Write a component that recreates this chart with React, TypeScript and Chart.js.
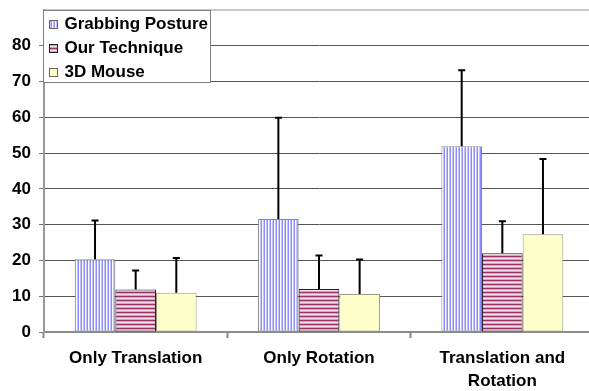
import React, { useEffect, useRef } from 'react';
import { Chart, registerables } from 'chart.js';

Chart.register(...registerables);

const categories: (string | string[])[] = ['Only Translation', 'Only Rotation', ['Translation and', 'Rotation']];
const seriesNames = ['Grabbing Posture', 'Our Technique', '3D Mouse'];
const grabbingPosture = [20.3, 31.6, 51.9];
const ourTechnique = [11.9, 12.0, 22.0];
const mouse3d = [11.0, 10.6, 27.3];
const grabbingPostureErr = [11.0, 28.4, 21.4];
const ourTechniqueErr = [5.4, 9.5, 9.1];
const mouse3dErr = [9.8, 9.8, 21.2];
const yTicks = [0, 10, 20, 30, 40, 50, 60, 70, 80, 90];

const FONT = '"Liberation Sans", Arial, sans-serif';

function stripePattern(colors: string[], vertical: boolean): CanvasPattern | string {
  const c = document.createElement('canvas');
  c.width = vertical ? colors.length : 1;
  c.height = vertical ? 1 : colors.length;
  const x = c.getContext('2d');
  if (!x) return colors[0];
  colors.forEach((col, i) => {
    x.fillStyle = col;
    if (vertical) x.fillRect(i, 0, 1, 1);
    else x.fillRect(0, i, 1, 1);
  });
  const p = x.createPattern(c, 'repeat');
  return p || colors[0];
}

export default function App() {
  const ref = useRef<HTMLCanvasElement>(null);

  useEffect(() => {
    if (!ref.current) return;
    const bluePat = stripePattern(['#8c8cff', '#ffffff', '#c4c4ff'], true);
    const pinkPat = stripePattern(['#993366', '#d9a3be', '#f3dde8', '#d9a3be'], false);
    const fills = [bluePat, pinkPat, '#ffffcc'];
    const borders = ['#8a8a8a', '#222222', '#9a9a80'];
    const errs = [grabbingPostureErr, ourTechniqueErr, mouse3dErr];

    const errorBars = {
      id: 'errorBars',
      afterDatasetsDraw(chart: any) {
        const ctx = chart.ctx;
        const ys = chart.scales.y;
        ctx.save();
        ctx.strokeStyle = '#000';
        ctx.lineWidth = 2;
        chart.data.datasets.forEach((ds: any, i: number) => {
          const meta = chart.getDatasetMeta(i);
          meta.data.forEach((el: any, j: number) => {
            const v = ds.data[j];
            const top = ys.getPixelForValue(v + errs[i][j]);
            ctx.beginPath();
            ctx.moveTo(el.x, el.y);
            ctx.lineTo(el.x, top);
            ctx.moveTo(el.x - 3.5, top + 0.5);
            ctx.lineTo(el.x + 3.5, top + 0.5);
            ctx.stroke();
          });
        });
        ctx.restore();
      },
    };

    const legendBox = {
      id: 'legendBox',
      afterDraw(chart: any) {
        const ctx = chart.ctx;
        const left = chart.chartArea.left - 0.5;
        const top = chart.chartArea.top + 0.5;
        ctx.save();
        ctx.fillStyle = '#ffffff';
        ctx.fillRect(left, top, 167, 72);
        ctx.strokeStyle = '#808080';
        ctx.lineWidth = 1;
        ctx.strokeRect(left, top, 167, 72);
        ctx.font = 'bold 17px ' + FONT;
        ctx.textBaseline = 'middle';
        ctx.textAlign = 'left';
        chart.data.datasets.forEach((ds: any, i: number) => {
          const cy = top + 14 + i * 24;
          ctx.fillStyle = ds.backgroundColor;
          ctx.fillRect(left + 6, cy - 4, 8, 8);
          ctx.strokeStyle = i === 1 ? '#222' : '#666';
          ctx.strokeRect(left + 6, cy - 4, 8, 8);
          ctx.fillStyle = '#000';
          ctx.fillText(ds.label, left + 21, cy);
        });
        ctx.restore();
      },
    };

    const chart = new Chart(ref.current, {
      type: 'bar',
      data: {
        labels: categories,
        datasets: [grabbingPosture, ourTechnique, mouse3d].map((d, i) => ({
          label: seriesNames[i],
          data: d,
          backgroundColor: fills[i] as any,
          borderColor: borders[i],
          borderWidth: 1,
          borderSkipped: false,
          categoryPercentage: 0.665,
          barPercentage: 1.0,
        })),
      },
      options: {
        animation: false,
        responsive: false,
        devicePixelRatio: 1,
        events: [],
        layout: { padding: { top: 10, left: 0, right: 0, bottom: 0 } },
        plugins: { legend: { display: false }, tooltip: { enabled: false } },
        scales: {
          x: {
            afterFit: (s: any) => { s.height = 59; s.paddingLeft = 0; s.paddingRight = 0; },
            grid: {
              display: true,
              drawOnChartArea: false,
              drawTicks: true,
              tickLength: 6,
              tickColor: '#888',
              tickWidth: 2,
              offset: true,
            },
            border: { display: true, color: '#8c8c8c', width: 2 },
            ticks: {
              color: '#000',
              padding: 9,
              maxRotation: 0,
              autoSkip: false,
              font: { family: FONT, size: 17, weight: 'bold', lineHeight: 1.35 },
            },
          },
          y: {
            min: 0,
            max: 90,
            afterFit: (s: any) => { s.width = 44; s.paddingTop = 0; s.paddingBottom = 0; },
            afterBuildTicks: (s: any) => { s.ticks = yTicks.map((v) => ({ value: v })); },
            grid: {
              color: (c: any) => (c.tick && c.tick.value === 90 ? '#c8c8c8' : c.tick && c.tick.value === 0 ? '#8c8c8c' : '#555555'),
              lineWidth: (c: any) => (c.tick && c.tick.value === 90 ? 2 : 1),
              tickColor: (c: any) => (c.tick && c.tick.value === 90 ? 'rgba(0,0,0,0)' : '#777'),
              tickLength: 5,
              drawTicks: true,
            },
            border: { display: true, color: '#999999', width: 2 },
            ticks: {
              color: '#000',
              padding: 8,
              callback: (v: any) => (v === 90 ? '' : String(v)),
              font: { family: FONT, size: 17, weight: 'bold' },
            },
          },
        },
      },
      plugins: [errorBars, legendBox],
    });
    return () => chart.destroy();
  }, []);

  return (
    <div style={{ position: 'fixed', left: 0, top: 0, width: 589, height: 391, overflow: 'hidden', background: '#fff' }}>
      <canvas ref={ref} width={594} height={391} style={{ display: 'block', width: 594, height: 391 }} />
    </div>
  );
}
